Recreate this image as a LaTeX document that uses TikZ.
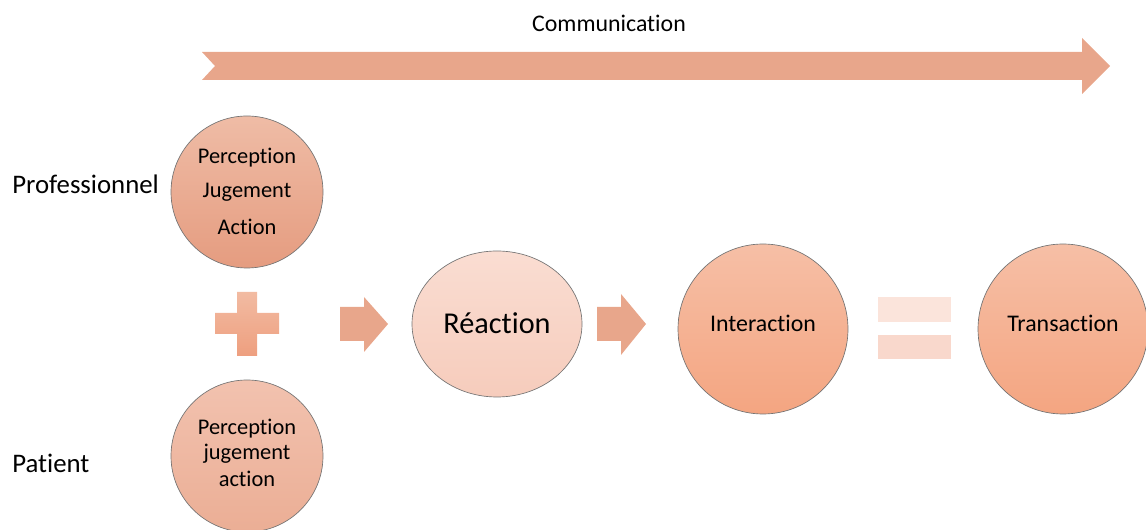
\documentclass[tikz,border=0pt]{standalone}
\usepackage{fontspec}
\setmainfont[Ligatures=NoCommon]{Carlito}
\begin{document}
\begin{tikzpicture}[x=0.75pt,y=-0.75pt,
  lbl/.style={inner sep=0pt, font=\fontsize{20.1}{24}\selectfont},
  intext/.style={inner sep=0pt, font=\fontsize{16.8}{20}\selectfont},
  disc/.style={circle, draw=black!55, line width=0.5pt, inner sep=0pt, align=center},
]
\definecolor{arrowc}{HTML}{E8A68B}
\definecolor{proTop}{HTML}{EFBCA6}
\definecolor{proBot}{HTML}{E59C80}
\definecolor{patTop}{HTML}{F2C2AF}
\definecolor{patBot}{HTML}{EBAE95}
\definecolor{reaTop}{HTML}{FADDD2}
\definecolor{reaBot}{HTML}{F6CCBC}
\definecolor{intTop}{HTML}{F6BFA6}
\definecolor{intBot}{HTML}{F4A581}
\definecolor{plusTop}{HTML}{F2BBA2}
\definecolor{plusBot}{HTML}{EE9F7F}
\definecolor{eqTop}{HTML}{FBE4DB}
\definecolor{eqBot}{HTML}{F9D8CC}
\useasboundingbox (0,0) rectangle (1146,530);

% big communication arrow
\node[lbl, font=\fontsize{17.9}{20}\selectfont] (comm) at (609,23) {Communication};
\fill[arrowc] (202,52) -- (1082,52) -- (1082,38) -- (1110,66) -- (1082,94) -- (1082,80) -- (202,80) -- (215,66) -- cycle;

% side labels
\node[lbl, anchor=west] (pro) at (12,184) {Professionnel};
\node[lbl, anchor=west] (pat) at (12,463) {Patient};

% professional circle
\node[disc, minimum size=114pt, top color=proTop, bottom color=proBot] (c1) at (247,192) {};
\node[intext] at (247,158) {Perception};
\node[intext] at (247,192) {Jugement};
\node[intext] at (247,227) {Action};

% patient circle
\node[disc, minimum size=114pt, top color=patTop, bottom color=patBot] (c2) at (247,456) {};
\node[intext] at (247,429) {Perception};
\node[intext] at (247,454) {jugement};
\node[intext] at (247,479) {action};

% plus sign
\shade[top color=plusTop, bottom color=plusBot] (237,292) -- (257,292) -- (257,313) -- (279,313) -- (279,334) -- (257,334) -- (257,356) -- (237,356) -- (237,334) -- (215,334) -- (215,313) -- (237,313) -- cycle;

% arrow 1
\fill[arrowc] (340,307) -- (364,307) -- (364,297) -- (388,324) -- (364,352) -- (364,341) -- (340,341) -- cycle;

% reaction ellipse
\shade[top color=reaTop, bottom color=reaBot, draw=black!55, line width=0.5pt] (497,324) ellipse [x radius=85, y radius=73];
\node[lbl, font=\fontsize{22.7}{26}\selectfont] (rea) at (497,323) {Réaction};

% arrow 2
\fill[arrowc] (597,307) -- (621,307) -- (621,294) -- (646,324) -- (621,355) -- (621,341) -- (597,341) -- cycle;

% interaction circle
\node[disc, minimum size=127.5pt, top color=intTop, bottom color=intBot] (inter) at (763,329) {};
\node[lbl, font=\fontsize{17.9}{20}\selectfont] at (763,323) {Interaction};

% equals sign
\fill[eqTop] (878,297) rectangle (951,322);
\fill[eqBot] (878,335) rectangle (951,359);

% transaction circle
\node[disc, minimum size=127.5pt, top color=intTop, bottom color=intBot] (trans) at (1063,329) {};
\node[lbl, font=\fontsize{17.9}{20}\selectfont] at (1063,323) {Transaction};
\end{tikzpicture}
\end{document}
